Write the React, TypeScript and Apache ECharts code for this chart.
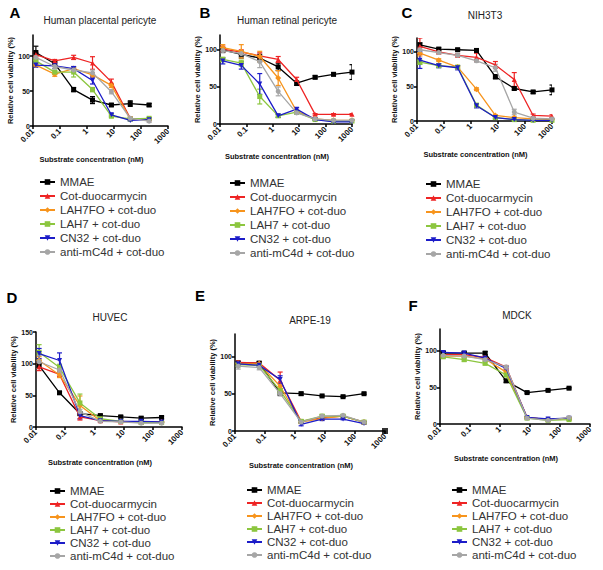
import React, { useEffect, useRef } from "react";
import * as echarts from "echarts";

// ---------- data ----------
const SERIES_NAMES = [
  "MMAE",
  "Cot-duocarmycin",
  "LAH7FO + cot-duo",
  "LAH7 + cot-duo",
  "CN32 + cot-duo",
  "anti-mC4d + cot-duo",
];
const COLORS = ["#000000", "#ee2424", "#f7941d", "#8cc63f", "#1c1cc8", "#a6a6a6"];
const SYMBOLS = ["rect", "triangle", "diamond", "rect", "triangle", "circle"];
const SYMBOL_ROT = [0, 0, 0, 0, 180, 0];

const X_TICK_LABELS = ["0.01", "0.1", "1", "10", "100", "1000"];
const Y_TICKS_STD = [0, 50, 100];
const Y_TICKS_D = [0, 50, 100, 150];

const CONC7 = [0.0128, 0.064, 0.32, 1.6, 8, 40, 200];
const CONC8 = [0.0128, 0.064, 0.32, 1.6, 8, 40, 200, 1000];

// Panel A – Human placental pericyte (rows follow SERIES_NAMES)
const A_VALUES = [
  [105, 89, 52, 37, 30, 32, 30],
  [102, 93, 98, 90, 63, 11, 10],
  [87, 74, 82, 73, 58, 10, 9],
  [93, 77, 77, 52, 14, 10, 11],
  [87, 86, 82, 65, 16, 8, 9],
  [98, 85, 80, 76, 49, 11, 7],
];
const A_ERRORS = [
  [9, 3, 3, 5, 2, 4, 2],
  [3, 2, 3, 9, 4, 2, 1],
  [2, 3, 2, 3, 3, 1, 1],
  [3, 2, 7, 3, 2, 1, 1],
  [3, 4, 3, 5, 2, 1, 1],
  [4, 3, 3, 4, 3, 1, 2],
];

// Panel B – Human retinal pericyte
const B_VALUES = [
  [100, 94, 89, 77, 55, 63, 67, 70],
  [101, 97, 92, 87, 60, 13, 13, 13],
  [103, 98, 91, 62, 17, 7, 5, 5],
  [87, 82, 37, 11, 16, 6, 4, 4],
  [85, 79, 54, 11, 20, 6, 3, 3],
  [99, 95, 84, 44, 15, 7, 5, 5],
];
const B_ERRORS = [
  [3, 5, 5, 5, 3, 2, 2, 10],
  [4, 3, 4, 4, 3, 1, 1, 1],
  [4, 9, 7, 10, 2, 1, 1, 1],
  [3, 4, 10, 2, 2, 1, 1, 1],
  [4, 5, 14, 2, 2, 1, 1, 1],
  [3, 4, 8, 6, 2, 1, 1, 1],
];

// Panel C – NIH3T3
const C_VALUES = [
  [110, 104, 103, 102, 64, 47, 42, 45],
  [108, 100, 95, 92, 81, 60, 8, 7],
  [98, 88, 78, 46, 8, 5, 3, 2],
  [85, 80, 78, 23, 5, 2, 1, 1],
  [88, 80, 77, 22, 5, 2, 1, 1],
  [103, 99, 95, 87, 77, 13, 4, 3],
];
const C_ERRORS = [
  [3, 2, 2, 2, 3, 2, 2, 7],
  [12, 3, 2, 6, 5, 10, 2, 2],
  [4, 2, 2, 2, 1, 1, 1, 1],
  [3, 2, 2, 2, 1, 1, 1, 1],
  [12, 3, 3, 3, 2, 1, 1, 1],
  [4, 2, 2, 2, 5, 4, 1, 1],
];

// Panel D – HUVEC
const D_VALUES = [
  [97, 54, 21, 18, 16, 14, 15],
  [95, 83, 16, 10, 8, 8, 8],
  [105, 82, 34, 10, 9, 8, 8],
  [118, 94, 38, 13, 9, 7, 7],
  [116, 105, 18, 10, 9, 9, 8],
  [103, 90, 24, 9, 8, 6, 6],
];
const D_ERRORS = [
  [3, 2, 2, 2, 2, 2, 2],
  [6, 4, 5, 2, 1, 1, 1],
  [6, 4, 15, 2, 1, 1, 1],
  [12, 5, 14, 2, 1, 1, 1],
  [8, 12, 5, 2, 1, 1, 1],
  [10, 4, 4, 1, 1, 1, 1],
];

// Panel E – ARPE-19
const E_VALUES = [
  [91, 91, 51, 50, 47, 46, 50],
  [92, 91, 68, 13, 18, 20, 12],
  [90, 90, 60, 12, 17, 20, 12],
  [89, 88, 54, 13, 20, 20, 12],
  [90, 88, 69, 9, 16, 16, 10],
  [87, 85, 50, 12, 20, 21, 12],
];
const E_ERRORS = [
  [2, 2, 3, 2, 1, 1, 1],
  [2, 2, 11, 2, 2, 1, 1],
  [2, 2, 3, 2, 2, 1, 1],
  [3, 2, 3, 2, 2, 1, 1],
  [2, 2, 5, 2, 2, 1, 1],
  [4, 3, 3, 2, 2, 1, 1],
];
const E_EXTRA_X = [1000];
const E_EXTRA_Y = [0];

// Panel F – MDCK
const F_VALUES = [
  [97, 97, 97, 59, 43, 46, 49],
  [95, 95, 91, 78, 9, 6, 8],
  [93, 93, 89, 71, 9, 6, 8],
  [92, 88, 83, 67, 8, 5, 6],
  [98, 97, 90, 76, 9, 7, 8],
  [94, 93, 88, 78, 8, 5, 9],
];
const F_ERRORS = [
  [2, 2, 2, 2, 1, 1, 1],
  [2, 2, 2, 2, 1, 1, 1],
  [2, 2, 2, 2, 1, 1, 1],
  [2, 2, 2, 2, 1, 1, 1],
  [2, 2, 2, 2, 1, 1, 1],
  [2, 2, 2, 2, 1, 1, 1],
];

// ---------- layout ----------
const FONT = "'Liberation Sans', Arial, sans-serif";

const PANELS = [
  {
    letter: "A", title: "Human placental pericyte", conc: CONC7, values: A_VALUES, errors: A_ERRORS,
    grid: { left: 33, top: 35, width: 135, height: 91 }, ymax: 130, yticks: Y_TICKS_STD,
    letterPos: [15, 12], titlePos: [100, 20], legendPos: [39, 176], legendGap: 2, xNameGap: 29,
  },
  {
    letter: "B", title: "Human retinal pericyte", conc: CONC8, values: B_VALUES, errors: B_ERRORS,
    grid: { left: 220, top: 35, width: 132, height: 89 }, ymax: 120, yticks: Y_TICKS_STD,
    letterPos: [205, 12], titlePos: [287, 20], legendPos: [229, 177], legendGap: 2, xNameGap: 28,
  },
  {
    letter: "C", title: "NIH3T3", conc: CONC8, values: C_VALUES, errors: C_ERRORS,
    grid: { left: 417, top: 38, width: 135, height: 83 }, ymax: 120, yticks: Y_TICKS_STD,
    letterPos: [407, 12], titlePos: [485, 15], legendPos: [425, 178], legendGap: 2, xNameGap: 29,
  },
  {
    letter: "D", title: "HUVEC", conc: CONC7, values: D_VALUES, errors: D_ERRORS,
    grid: { left: 36, top: 332, width: 146, height: 95 }, ymax: 150, yticks: Y_TICKS_D,
    letterPos: [12, 297], titlePos: [110, 317], legendPos: [49, 485], legendGap: 1, xNameGap: 31,
  },
  {
    letter: "E", title: "ARPE-19", conc: CONC7, values: E_VALUES, errors: E_ERRORS,
    grid: { left: 235, top: 334, width: 150, height: 97 }, ymax: 130, yticks: Y_TICKS_STD,
    letterPos: [200, 295], titlePos: [310, 320], legendPos: [246, 484], legendGap: 1, xNameGap: 30,
  },
  {
    letter: "F", title: "MDCK", conc: CONC7, values: F_VALUES, errors: F_ERRORS,
    grid: { left: 440, top: 329, width: 150, height: 95 }, ymax: 130, yticks: Y_TICKS_STD,
    letterPos: [413, 305], titlePos: [517, 315], legendPos: [451, 484], legendGap: 1, xNameGap: 30,
  },
];

function xLabel(v: number): string {
  const e = Math.round(Math.log10(v));
  const idx = e + 2;
  return X_TICK_LABELS[idx] ?? String(v);
}

function buildOption() {
  const grid: any[] = [];
  const xAxis: any[] = [];
  const yAxis: any[] = [];
  const legend: any[] = [];
  const series: any[] = [];
  const graphic: any[] = [];

  PANELS.forEach((p, pi) => {
    grid.push({ ...p.grid, containLabel: false });
    xAxis.push({
      type: "log",
      logBase: 10,
      gridIndex: pi,
      min: 0.01,
      max: 1000,
      name: "Substrate concentration (nM)",
      nameLocation: "middle",
      nameGap: p.xNameGap,
      nameTextStyle: { fontFamily: FONT, fontWeight: "bold", fontSize: 7.5, color: "#111", padding: [0, 18, 0, 0] },
      axisLine: { lineStyle: { color: "#000", width: 1.5 } },
      axisTick: { show: true, length: 3, lineStyle: { color: "#000", width: 1.5 } },
      minorTick: { show: false },
      splitLine: { show: false },
      axisLabel: {
        rotate: 45,
        fontFamily: FONT,
        fontWeight: "bold",
        fontSize: 8,
        color: "#111",
        margin: 4,
        formatter: (v: number) => xLabel(v),
      },
    });
    yAxis.push({
      type: "value",
      gridIndex: pi,
      min: 0,
      max: p.ymax,
      name: "Relative cell viability (%)",
      nameLocation: "middle",
      nameGap: 18,
      nameTextStyle: { fontFamily: FONT, fontWeight: "bold", fontSize: 7.5, color: "#111" },
      axisLine: { show: true, lineStyle: { color: "#000", width: 1.5 } },
      axisTick: { show: true, length: 3, lineStyle: { color: "#000", width: 1.5 }, customValues: p.yticks },
      splitLine: { show: false },
      axisLabel: {
        fontFamily: FONT,
        fontWeight: "bold",
        fontSize: 7,
        color: "#111",
        margin: 3,
        customValues: p.yticks,
      },
    });
    legend.push({
      orient: "vertical",
      left: p.legendPos[0],
      top: p.legendPos[1],
      itemWidth: 15,
      itemHeight: 7,
      itemGap: p.legendGap,
      padding: 0,
      selectedMode: false,
      data: SERIES_NAMES,
      textStyle: { fontFamily: FONT, fontSize: 11.5, color: "#333", lineHeight: 12, padding: [0, 0, 0, 0] },
    });
    graphic.push({
      type: "text",
      x: p.letterPos[0],
      y: p.letterPos[1],
      style: {
        text: p.letter,
        fontFamily: FONT,
        fontWeight: "bold",
        fontSize: 15,
        fill: "#000",
        align: "center",
        verticalAlign: "middle",
      },
    });
    graphic.push({
      type: "text",
      x: p.titlePos[0],
      y: p.titlePos[1],
      style: {
        text: p.title,
        fontFamily: FONT,
        fontSize: 10,
        fill: "#222",
        align: "center",
        verticalAlign: "middle",
      },
    });

    SERIES_NAMES.forEach((name, si) => {
      const color = COLORS[si];
      const vals = p.values[si];
      const errs = p.errors[si];
      const pts = p.conc.map((c, i) => [c, vals[i]]);
      const errData = p.conc.map((c, i) => [c, vals[i], errs[i]]);
      series.push({
        type: "custom",
        name: "err-" + p.letter + si,
        xAxisIndex: pi,
        yAxisIndex: pi,
        data: errData,
        encode: { x: 0, y: 1 },
        clip: true,
        z: 2,
        renderItem: (params: any, api: any) => {
          const x = api.value(0);
          const y = api.value(1);
          const e = api.value(2);
          if (!e) return null;
          const top = api.coord([x, y + e]);
          const bot = api.coord([x, Math.max(0, y - e)]);
          const w = 2.5;
          const st = { stroke: color, lineWidth: 1.2 };
          return {
            type: "group",
            children: [
              { type: "line", shape: { x1: top[0], y1: top[1], x2: bot[0], y2: bot[1] }, style: st },
              { type: "line", shape: { x1: top[0] - w, y1: top[1], x2: top[0] + w, y2: top[1] }, style: st },
              { type: "line", shape: { x1: bot[0] - w, y1: bot[1], x2: bot[0] + w, y2: bot[1] }, style: st },
            ],
          };
        },
      });
      series.push({
        type: "line",
        name,
        xAxisIndex: pi,
        yAxisIndex: pi,
        data: pts,
        symbol: SYMBOLS[si],
        symbolRotate: SYMBOL_ROT[si],
        symbolSize: si === 2 ? 6 : 5,
        lineStyle: { color, width: 1.3 },
        itemStyle: { color },
        z: 3 + si * 0.1,
      });
    });
  });

  // lone point in panel E at the end of the axis
  series.push({
    type: "scatter",
    name: "E-extra",
    xAxisIndex: 4,
    yAxisIndex: 4,
    data: E_EXTRA_X.map((x, i) => [x, E_EXTRA_Y[i]]),
    symbol: "rect",
    symbolSize: 6,
    itemStyle: { color: "#000" },
    clip: false,
    z: 5,
  });

  return {
    animation: false,
    backgroundColor: "#ffffff",
    textStyle: { fontFamily: FONT },
    grid,
    xAxis,
    yAxis,
    legend,
    series,
    graphic,
  };
}

export default function App() {
  const ref = useRef<HTMLDivElement>(null);
  useEffect(() => {
    document.body.style.margin = "0";
    if (!ref.current) return;
    const chart = echarts.init(ref.current, null, { renderer: "svg" });
    chart.setOption(buildOption() as any);
    return () => chart.dispose();
  }, []);
  return <div ref={ref} style={{ width: 603, height: 570, background: "#fff" }} />;
}
